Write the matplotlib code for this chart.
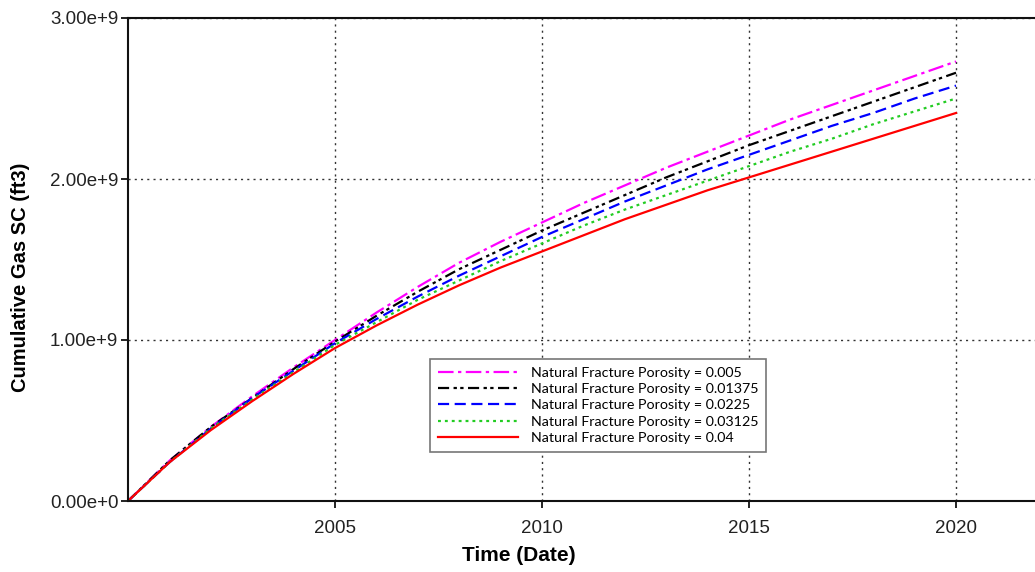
import numpy as np
import matplotlib.pyplot as plt
from matplotlib.ticker import FuncFormatter

# Cumulative gas production per year (units of 1e9 ft3)
years = [2000, 2001, 2002, 2003, 2004, 2005, 2006, 2007, 2008, 2009, 2010,
         2011, 2012, 2013, 2014, 2015, 2016, 2017, 2018, 2019, 2020]

gas_0005 = [0.0, 0.25, 0.46, 0.65, 0.83, 1.00, 1.17, 1.33, 1.48, 1.61, 1.73,
            1.85, 1.96, 2.07, 2.17, 2.27, 2.37, 2.46, 2.55, 2.64, 2.73]
gas_001375 = [0.0, 0.25, 0.46, 0.64, 0.82, 0.99, 1.15, 1.30, 1.44, 1.56, 1.68,
              1.79, 1.90, 2.01, 2.11, 2.21, 2.30, 2.39, 2.48, 2.57, 2.66]
gas_00225 = [0.0, 0.24, 0.45, 0.64, 0.81, 0.98, 1.13, 1.27, 1.40, 1.52, 1.64,
             1.75, 1.86, 1.96, 2.06, 2.15, 2.24, 2.33, 2.41, 2.50, 2.58]
gas_003125 = [0.0, 0.24, 0.45, 0.63, 0.80, 0.97, 1.11, 1.25, 1.37, 1.49, 1.60,
              1.71, 1.81, 1.90, 1.99, 2.08, 2.17, 2.25, 2.34, 2.42, 2.50]
gas_004 = [0.0, 0.24, 0.44, 0.62, 0.79, 0.95, 1.09, 1.22, 1.34, 1.45, 1.55,
           1.65, 1.75, 1.84, 1.93, 2.01, 2.09, 2.17, 2.25, 2.33, 2.41]

labels = ['Natural Fracture Porosity = 0.005',
          'Natural Fracture Porosity = 0.01375',
          'Natural Fracture Porosity = 0.0225',
          'Natural Fracture Porosity = 0.03125',
          'Natural Fracture Porosity = 0.04']

series = [gas_0005, gas_001375, gas_00225, gas_003125, gas_004]
colors = ['#ff00ff', '#000000', '#0000ff', '#22cc22', '#ff0000']
styles = [(0, (7, 2, 1.5, 2)),
          (0, (5, 2, 1.5, 1.5, 1.5, 2)),
          (0, (5, 2.5)),
          (0, (1.3, 1.8)),
          '-']

fig = plt.figure(figsize=(10.35, 5.72), dpi=100)
ax = fig.add_axes([128 / 1035, 71 / 572, 1 - 128 / 1035, 483 / 572])

for vals, lab, col, ls in zip(series, labels, colors, styles):
    ax.plot(years, np.array(vals) * 1e9, color=col, linestyle=ls,
            linewidth=1.6, label=lab)

ax.set_xlim(2000, 2000 + (1035 - 128) / 41.4)
ax.set_ylim(0, 3e9)
ax.set_xticks([2005, 2010, 2015, 2020])
ax.set_yticks([0, 1e9, 2e9, 3e9])
ax.yaxis.set_major_formatter(FuncFormatter(
    lambda v, p: '0.00e+0' if v == 0 else '%.2fe+9' % (v / 1e9)))

ax.grid(True, color='#333333', linestyle=(0, (1.5, 3)), linewidth=1.0)
ax.spines['right'].set_visible(False)
for s in ['left', 'bottom', 'top']:
    ax.spines[s].set_linewidth(1.5)
    ax.spines[s].set_color('#111111')

ax.tick_params(axis='both', direction='out', length=5, width=1.3,
               labelsize=13.5, colors='#111111')
ax.tick_params(axis='x', pad=9)
ax.tick_params(axis='y', pad=2)
for t in ax.get_xticklabels() + ax.get_yticklabels():
    t.set_fontfamily('Liberation Sans')
    t.set_color('#222222')

ax.set_xlabel('Time (Date)', fontsize=15, fontweight='bold',
              fontfamily='Liberation Sans')
ax.set_ylabel('Cumulative Gas SC (ft3)', fontsize=14.5, fontweight='bold',
              fontfamily='Liberation Sans')
ax.xaxis.set_label_coords((519 - 128) / 907, -45 / 483)
ax.yaxis.set_label_coords(-98 / 907, (501 - 277) / 483)

leg = ax.legend(loc='upper left', bbox_to_anchor=((430 - 128) / 907, (501 - 359) / 483),
                prop={'family': 'Lato', 'size': 10.3}, handlelength=5.6,
                handletextpad=0.9, labelspacing=0.3, borderpad=0.55,
                fancybox=False, framealpha=1, borderaxespad=0)
leg.get_frame().set_edgecolor('#777777')
leg.get_frame().set_linewidth(1.2)

fig.savefig('out.png', dpi=100)
